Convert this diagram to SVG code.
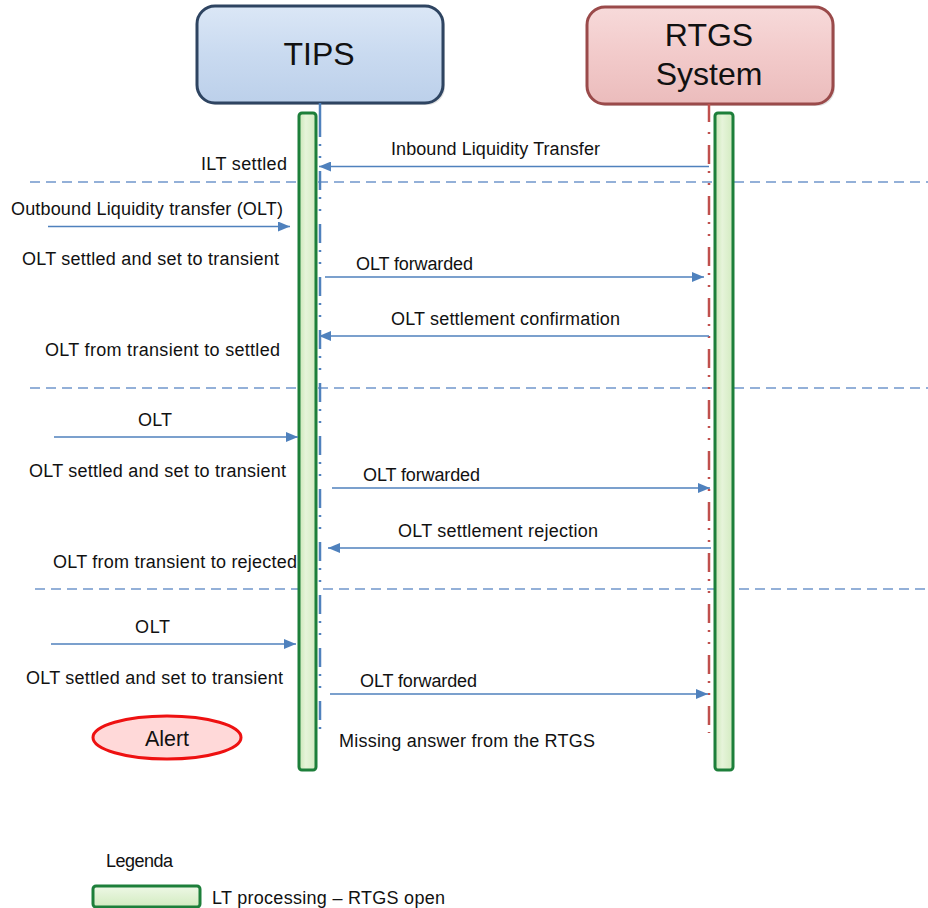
<svg xmlns="http://www.w3.org/2000/svg" width="928" height="908" viewBox="0 0 928 908">
<defs>
<linearGradient id="gTips" x1="0" y1="0" x2="0" y2="1">
<stop offset="0" stop-color="#dbe7f6"/><stop offset="0.5" stop-color="#c9daf0"/><stop offset="1" stop-color="#bcd0ea"/>
</linearGradient>
<linearGradient id="gRtgs" x1="0" y1="0" x2="0" y2="1">
<stop offset="0" stop-color="#f7dada"/><stop offset="0.5" stop-color="#f2caca"/><stop offset="1" stop-color="#ebbcbc"/>
</linearGradient>
<linearGradient id="gBar" x1="0" y1="0" x2="1" y2="0">
<stop offset="0" stop-color="#c9e6b5"/><stop offset="0.4" stop-color="#e6f4da"/><stop offset="1" stop-color="#d2ebc0"/>
</linearGradient>
<linearGradient id="gBarH" x1="0" y1="0" x2="0" y2="1">
<stop offset="0" stop-color="#eef8e6"/><stop offset="1" stop-color="#d2ebc0"/>
</linearGradient>
<marker id="ah" viewBox="0 0 12 10" refX="12" refY="5" markerWidth="12" markerHeight="10" markerUnits="userSpaceOnUse" orient="auto">
<path d="M0,0 L12,5 L0,10 Z" fill="#4f81bd"/>
</marker>
</defs>
<style>
text{font-family:"Liberation Sans",Arial,sans-serif;fill:#111;}
.t{font-size:18px;}
.h{font-size:32px;text-anchor:middle;}
.msg{stroke:#4f81bd;stroke-width:1.5;fill:none;marker-end:url(#ah);}
.sep{stroke:#7097cc;stroke-width:1.5;stroke-dasharray:10 6;fill:none;}
.bar{fill:url(#gBar);stroke:#1d7f3a;stroke-width:3;}
.box{stroke-width:3;}
</style>

<g id="separators">
<line class="sep" x1="30" y1="182" x2="928" y2="182"/>
<line class="sep" x1="30" y1="388" x2="928" y2="388"/>
<line class="sep" x1="35" y1="589" x2="928" y2="589"/>
</g>

<g id="tips">
<rect x="199" y="8" width="246" height="97" rx="18" fill="#000" opacity="0.12"/>
<rect class="box" x="197" y="6" width="246" height="97" rx="18" fill="url(#gTips)" stroke="#2e4461"/>
<text class="h" x="319" y="65">TIPS</text>
<line x1="320" y1="103" x2="320" y2="118" stroke="#4f81bd" stroke-width="2.5"/>
<line x1="320" y1="118" x2="320" y2="731" stroke="#4f81bd" stroke-width="2.5" stroke-dasharray="19 7 2 10 2 13"/>
<rect class="bar" x="299" y="113" width="17" height="657" rx="3"/>
</g>

<g id="rtgs">
<rect x="589" y="9" width="246" height="97" rx="18" fill="#000" opacity="0.12"/>
<rect class="box" x="587" y="7" width="246" height="97" rx="18" fill="url(#gRtgs)" stroke="#9a4a4a"/>
<text class="h" x="709" y="46">RTGS</text>
<text class="h" x="709" y="85">System</text>
<line x1="709" y1="104" x2="709" y2="120" stroke="#c0504d" stroke-width="2.5"/>
<line x1="709" y1="120" x2="709" y2="733" stroke="#c0504d" stroke-width="2.5" stroke-dasharray="2 10 2 11 19 7"/>
<rect class="bar" x="715" y="113" width="18" height="657" rx="3"/>
</g>

<g id="connectors">
<line class="msg" x1="709" y1="166.5" x2="319" y2="166.5"/>
<line class="msg" x1="48" y1="226.5" x2="290" y2="226.5"/>
<line class="msg" x1="325" y1="277" x2="704" y2="277"/>
<line class="msg" x1="709" y1="336" x2="319" y2="336"/>
<line class="msg" x1="54" y1="437" x2="298" y2="437"/>
<line class="msg" x1="332" y1="488" x2="710" y2="488"/>
<line class="msg" x1="711" y1="548" x2="328" y2="548"/>
<line class="msg" x1="51" y1="644" x2="296" y2="644"/>
<line class="msg" x1="330" y1="694" x2="708" y2="694"/>
</g>

<g id="labels">
<text class="t" x="391" y="155" textLength="209" lengthAdjust="spacing">Inbound Liquidity Transfer</text>
<text class="t" x="201" y="170" textLength="86" lengthAdjust="spacing">ILT settled</text>
<text class="t" x="11" y="215" textLength="272" lengthAdjust="spacing">Outbound Liquidity transfer (OLT)</text>
<text class="t" x="22" y="265" textLength="257" lengthAdjust="spacing">OLT settled and set to transient</text>
<text class="t" x="356" y="270" textLength="117" lengthAdjust="spacing">OLT forwarded</text>
<text class="t" x="391" y="325" textLength="229" lengthAdjust="spacing">OLT settlement confirmation</text>
<text class="t" x="45" y="356" textLength="235" lengthAdjust="spacing">OLT from transient to settled</text>
<text class="t" x="138" y="426" textLength="34" lengthAdjust="spacing">OLT</text>
<text class="t" x="29" y="477" textLength="257" lengthAdjust="spacing">OLT settled and set to transient</text>
<text class="t" x="363" y="481" textLength="117" lengthAdjust="spacing">OLT forwarded</text>
<text class="t" x="398" y="537" textLength="200" lengthAdjust="spacing">OLT settlement rejection</text>
<text class="t" x="53" y="568" textLength="244" lengthAdjust="spacing">OLT from transient to rejected</text>
<text class="t" x="135" y="633" textLength="35" lengthAdjust="spacing">OLT</text>
<text class="t" x="26" y="684" textLength="257" lengthAdjust="spacing">OLT settled and set to transient</text>
<text class="t" x="360" y="687" textLength="117" lengthAdjust="spacing">OLT forwarded</text>
<text class="t" x="339" y="747" textLength="256" lengthAdjust="spacing">Missing answer from the RTGS</text>
</g>

<g id="alert">
<ellipse cx="167" cy="737.5" rx="74" ry="21.5" fill="#ffd9d9" stroke="#ee1111" stroke-width="3"/>
<text x="167" y="746" font-size="21.5" text-anchor="middle">Alert</text>
</g>

<g id="legend">
<text class="t" x="106" y="867" textLength="67" lengthAdjust="spacing">Legenda</text>
<rect x="93" y="886" width="107" height="21" rx="3" fill="url(#gBarH)" stroke="#1d7f3a" stroke-width="3"/>
<text class="t" x="212" y="904" textLength="233" lengthAdjust="spacing">LT processing – RTGS open</text>
</g>
</svg>
